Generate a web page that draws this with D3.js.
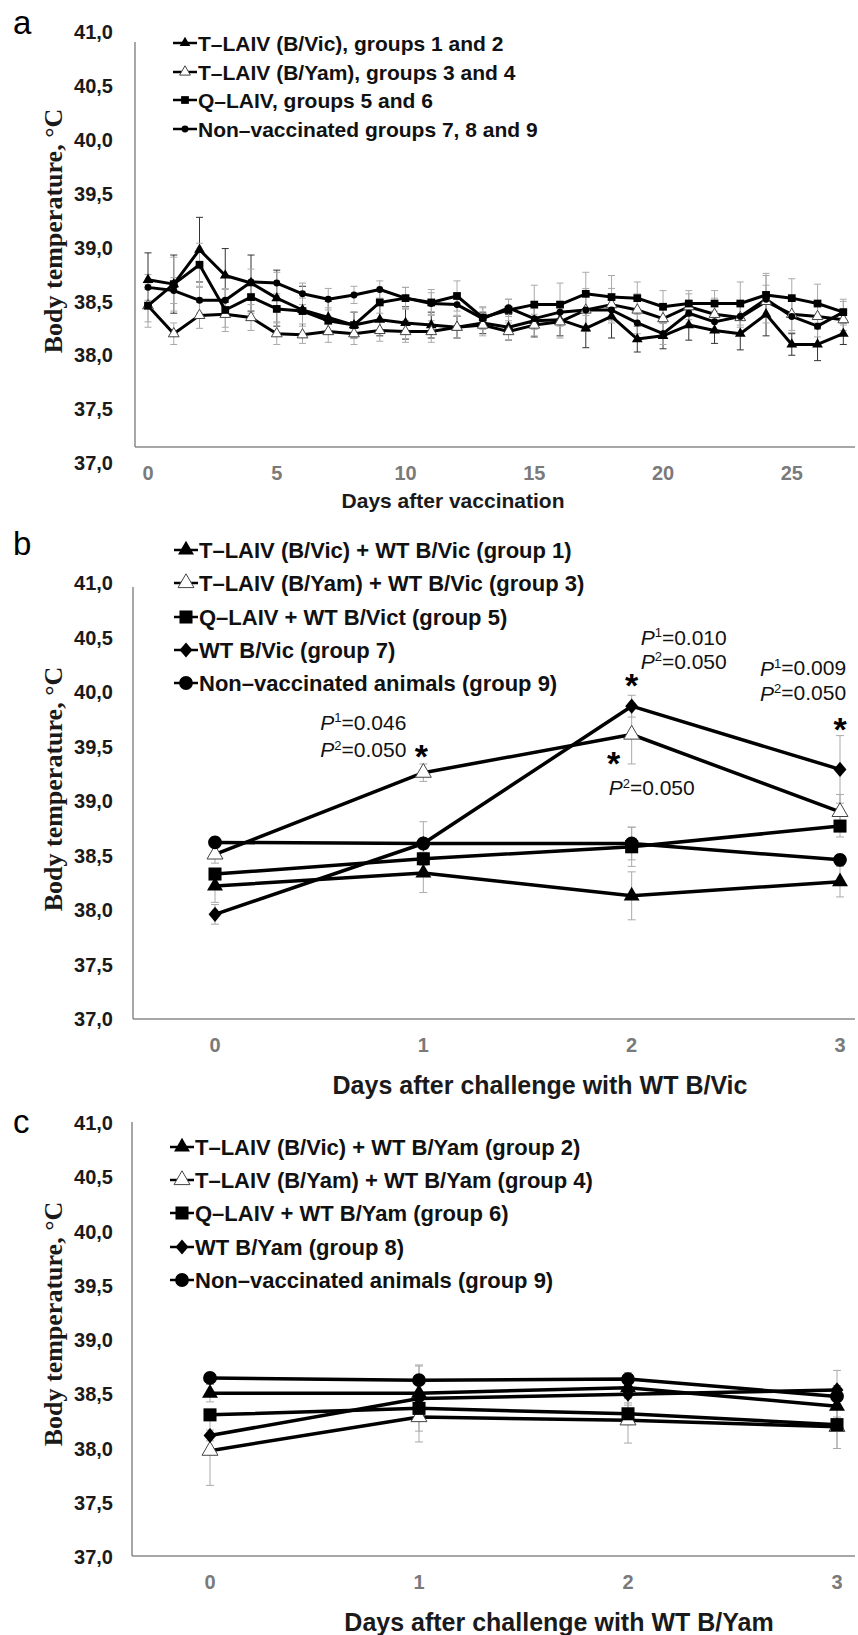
<!DOCTYPE html>
<html>
<head>
<meta charset="utf-8">
<script src="https://cdn.jsdelivr.net/npm/d3@7"></script>
<style>
  body { margin: 0; background: #fff; }
  svg { display: block; }
  text { font-family: "Liberation Sans", Arial, sans-serif; }
  text.serif { font-family: "Liberation Serif", "Times New Roman", serif; }
</style>
</head>
<body>
<div id="container"></div>
<script>
// shared y ticks
const yTickValues = [37, 37.5, 38, 38.5, 39, 39.5, 40, 40.5, 41];
const yTickLabels = ["37,0", "37,5", "38,0", "38,5", "39,0", "39,5", "40,0", "40,5", "41,0"];

// panel a - after vaccination
const daysA = [0, 1, 2, 3, 4, 5, 6, 7, 8, 9, 10, 11, 12, 13, 14, 15, 16, 17, 18, 19, 20, 21, 22, 23, 24, 25, 26, 27];
const xTicksA = [0, 5, 10, 15, 20, 25];
const tempA_vic = [38.70, 38.66, 38.98, 38.74, 38.67, 38.53, 38.42, 38.35, 38.28, 38.33, 38.30, 38.28, 38.26, 38.30, 38.26, 38.32, 38.33, 38.25, 38.36, 38.15, 38.18, 38.28, 38.23, 38.20, 38.38, 38.10, 38.10, 38.20];
const errA_vic = [0.25, 0.27, 0.30, 0.25, 0.26, 0.26, 0.22, 0.15, 0.12, 0.15, 0.15, 0.12, 0.10, 0.10, 0.12, 0.15, 0.15, 0.18, 0.20, 0.12, 0.12, 0.14, 0.12, 0.15, 0.20, 0.10, 0.15, 0.10];
const tempA_yam = [38.46, 38.20, 38.37, 38.38, 38.35, 38.20, 38.19, 38.22, 38.20, 38.23, 38.22, 38.22, 38.26, 38.28, 38.22, 38.28, 38.31, 38.42, 38.47, 38.42, 38.34, 38.45, 38.38, 38.35, 38.50, 38.38, 38.36, 38.33];
const errA_yam = [0.15, 0.10, 0.12, 0.12, 0.12, 0.10, 0.08, 0.10, 0.10, 0.10, 0.10, 0.10, 0.10, 0.10, 0.08, 0.10, 0.15, 0.20, 0.15, 0.15, 0.12, 0.12, 0.15, 0.15, 0.15, 0.15, 0.12, 0.10];
const tempA_q = [38.46, 38.66, 38.84, 38.42, 38.54, 38.43, 38.41, 38.32, 38.28, 38.49, 38.53, 38.49, 38.55, 38.35, 38.42, 38.47, 38.47, 38.57, 38.54, 38.53, 38.45, 38.48, 38.48, 38.48, 38.56, 38.53, 38.48, 38.40];
const errA_q = [0.20, 0.25, 0.20, 0.20, 0.15, 0.12, 0.12, 0.12, 0.12, 0.10, 0.10, 0.12, 0.14, 0.10, 0.10, 0.18, 0.20, 0.20, 0.20, 0.15, 0.15, 0.12, 0.12, 0.20, 0.20, 0.18, 0.18, 0.12];
const tempA_nv = [38.63, 38.60, 38.51, 38.51, 38.68, 38.67, 38.57, 38.52, 38.56, 38.61, 38.53, 38.48, 38.47, 38.34, 38.44, 38.34, 38.40, 38.42, 38.42, 38.30, 38.20, 38.39, 38.31, 38.36, 38.52, 38.36, 38.27, 38.40];
const errA_nv = [0.12, 0.12, 0.12, 0.10, 0.12, 0.10, 0.10, 0.10, 0.08, 0.08, 0.10, 0.10, 0.10, 0.10, 0.08, 0.10, 0.10, 0.15, 0.12, 0.10, 0.10, 0.10, 0.10, 0.10, 0.22, 0.15, 0.10, 0.10];
const legendA = ["T–LAIV (B/Vic), groups 1 and 2", "T–LAIV (B/Yam), groups 3 and 4", "Q–LAIV, groups 5 and 6", "Non–vaccinated groups 7, 8 and 9"];

// panel b - challenge with WT B/Vic
const daysB = [0, 1, 2, 3];
const tempB_g1 = [38.22, 38.34, 38.13, 38.26];
const errB_g1 = [0.15, 0.18, 0.22, 0.14];
const tempB_g3 = [38.51, 39.26, 39.61, 38.90];
const errB_g3 = [0.08, 0.08, 0.27, 0.16];
const tempB_g5 = [38.33, 38.47, 38.58, 38.77];
const errB_g5 = [0.05, 0.06, 0.18, 0.10];
const tempB_g7 = [37.96, 38.61, 39.87, 39.29];
const errB_g7 = [0.09, 0.20, 0.10, 0.31];
const tempB_g9 = [38.62, 38.61, 38.61, 38.46];
const errB_g9 = [0.05, 0.05, 0.15, 0.05];
const legendB = ["T–LAIV (B/Vic) + WT B/Vic (group 1)", "T–LAIV (B/Yam) + WT B/Vic (group 3)", "Q–LAIV + WT B/Vict (group 5)", "WT B/Vic (group 7)", "Non–vaccinated animals (group 9)"];

// panel c - challenge with WT B/Yam
const daysC = [0, 1, 2, 3];
const tempC_g2 = [38.51, 38.51, 38.56, 38.39];
const errC_g2 = [0.08, 0.10, 0.10, 0.10];
const tempC_g4 = [37.98, 38.29, 38.26, 38.20];
const errC_g4 = [0.32, 0.23, 0.21, 0.20];
const tempC_g6 = [38.31, 38.37, 38.32, 38.22];
const errC_g6 = [0.05, 0.10, 0.10, 0.22];
const tempC_g8 = [38.12, 38.46, 38.50, 38.54];
const errC_g8 = [0.05, 0.30, 0.10, 0.18];
const tempC_g9 = [38.65, 38.63, 38.64, 38.48];
const errC_g9 = [0.05, 0.14, 0.06, 0.10];
const legendC = ["T–LAIV (B/Vic) + WT B/Yam (group 2)", "T–LAIV (B/Yam) + WT B/Yam (group 4)", "Q–LAIV + WT B/Yam (group 6)", "WT B/Yam (group 8)", "Non–vaccinated animals (group 9)"];

const svg = d3
  .select("#container")
  .append("svg")
  .attr("width", 858)
  .attr("height", 1635);

const diamond = {
  draw(context, size) {
    const h = Math.sqrt(size) * 0.62;
    const w = h * 0.85;
    context.moveTo(0, -h);
    context.lineTo(w, 0);
    context.lineTo(0, h);
    context.lineTo(-w, 0);
    context.closePath();
  },
};
const shapes = {
  tri: d3.symbolTriangle,
  open: d3.symbolTriangle,
  sq: d3.symbolSquare,
  dia: diamond,
  circ: d3.symbolCircle,
};

const drawMarker = (sel, type, sizes) => {
  sel
    .append("path")
    .attr("d", d3.symbol().type(shapes[type]).size(sizes[type])())
    .attr("fill", type === "open" ? "#fff" : "#000")
    .attr("stroke", type === "open" ? "#444" : "none")
    .attr("stroke-width", 1);
};

const drawPanel = (p) => {
  const g = svg.append("g");
  const x = d3.scaleLinear().domain([p.days[0], p.days[p.days.length - 1]]).range(p.xRange);
  const y = d3.scaleLinear().domain([37, 41]).range(p.yRange);

  g.append("text")
    .attr("x", 13)
    .attr("y", p.letterY)
    .attr("font-size", 33)
    .text(p.letter);

  // y tick labels
  g.selectAll(".ytick")
    .data(yTickValues)
    .enter()
    .append("text")
    .attr("x", 113)
    .attr("y", (d) => y(d))
    .attr("dy", "0.36em")
    .attr("text-anchor", "end")
    .attr("font-size", 20)
    .attr("font-weight", "bold")
    .attr("fill", "#1a1a1a")
    .text((d, i) => yTickLabels[i]);

  // axis lines
  g.append("line")
    .attr("x1", p.axisX)
    .attr("x2", p.axisX)
    .attr("y1", p.axisTop)
    .attr("y2", p.axisBottom)
    .attr("stroke", "#8a8a8a")
    .attr("stroke-width", 1.5);
  g.append("line")
    .attr("x1", p.axisX)
    .attr("x2", 855)
    .attr("y1", p.axisBottom)
    .attr("y2", p.axisBottom)
    .attr("stroke", "#8a8a8a")
    .attr("stroke-width", 1.5);

  // x tick labels
  g.selectAll(".xtick")
    .data(p.xTicks)
    .enter()
    .append("text")
    .attr("x", (d) => x(d))
    .attr("y", p.axisBottom + 26)
    .attr("dy", "0.36em")
    .attr("text-anchor", "middle")
    .attr("font-size", 20)
    .attr("font-weight", "bold")
    .attr("fill", "#7a7a7a")
    .text((d) => d);

  g.append("text")
    .attr("x", p.titleX)
    .attr("y", p.axisBottom + p.titleDy)
    .attr("dy", "0.36em")
    .attr("text-anchor", "middle")
    .attr("font-size", p.titleSize)
    .attr("font-weight", "bold")
    .attr("fill", "#1a1a1a")
    .text(p.title);

  g.append("text")
    .attr("class", "serif")
    .attr("transform", `translate(62, ${p.yTitleY}) rotate(-90)`)
    .attr("text-anchor", "middle")
    .attr("font-size", 26)
    .attr("font-weight", "bold")
    .attr("fill", "#1a1a1a")
    .text("Body temperature, °C");

  const rows = p.series.map((s) =>
    p.days.map((d, i) => ({ d, v: s.values[i], e: s.errors[i] }))
  );

  // error bars
  p.series.forEach((s, k) => {
    const eb = g
      .append("g")
      .attr("stroke", s.errColor)
      .attr("stroke-width", 1)
      .selectAll("g")
      .data(rows[k])
      .enter()
      .append("g");
    eb.append("line")
      .attr("x1", (r) => x(r.d))
      .attr("x2", (r) => x(r.d))
      .attr("y1", (r) => y(r.v + r.e))
      .attr("y2", (r) => y(r.v - r.e));
    [1, -1].forEach((sign) => {
      eb.append("line")
        .attr("x1", (r) => x(r.d) - p.cap)
        .attr("x2", (r) => x(r.d) + p.cap)
        .attr("y1", (r) => y(r.v + sign * r.e))
        .attr("y2", (r) => y(r.v + sign * r.e));
    });
  });

  const line = d3
    .line()
    .x((r) => x(r.d))
    .y((r) => y(r.v));

  p.series.forEach((s, k) => {
    g.append("path")
      .datum(rows[k])
      .attr("d", line)
      .attr("fill", "none")
      .attr("stroke", "#000")
      .attr("stroke-width", p.lineWidth)
      .attr("stroke-linejoin", "round");
  });

  p.series.forEach((s, k) => {
    g.append("g")
      .selectAll("g")
      .data(rows[k])
      .enter()
      .append("g")
      .attr("transform", (r) => `translate(${x(r.d)}, ${y(r.v)})`)
      .each(function () {
        drawMarker(d3.select(this), s.shape, p.sizes);
      });
  });

  // legend
  const legend = g
    .selectAll(".legend")
    .data(p.series)
    .enter()
    .append("g")
    .attr("transform", (s, i) => `translate(${p.legendX}, ${p.legendY[i]})`);
  legend
    .append("line")
    .attr("x1", -12)
    .attr("x2", 12)
    .attr("stroke", "#000")
    .attr("stroke-width", 2.5);
  legend.each(function (s) {
    drawMarker(d3.select(this), s.shape, p.sizes);
  });
  legend
    .append("text")
    .attr("x", 13)
    .attr("dy", "0.36em")
    .attr("font-size", p.legendSize)
    .attr("font-weight", "bold")
    .attr("fill", "#111")
    .text((s) => s.name);

  return { g, x, y };
};

drawPanel({
  letter: "a",
  letterY: 34,
  days: daysA,
  xTicks: xTicksA,
  xRange: [148, 843.3],
  yRange: [463, 32],
  axisX: 135,
  axisTop: 42,
  axisBottom: 447,
  titleX: 453,
  titleDy: 53,
  titleSize: 21,
  title: "Days after vaccination",
  yTitleY: 231,
  cap: 3.5,
  lineWidth: 3,
  sizes: { tri: 50, open: 50, sq: 60, circ: 38, dia: 50 },
  legendX: 185,
  legendY: [43, 72, 100, 129],
  legendSize: 21,
  series: [
    { name: legendA[0], values: tempA_vic, errors: errA_vic, shape: "tri", errColor: "#333" },
    { name: legendA[1], values: tempA_yam, errors: errA_yam, shape: "open", errColor: "#aaa" },
    { name: legendA[2], values: tempA_q, errors: errA_q, shape: "sq", errColor: "#aaa" },
    { name: legendA[3], values: tempA_nv, errors: errA_nv, shape: "circ", errColor: "#aaa" },
  ],
});

const panelB = drawPanel({
  letter: "b",
  letterY: 555,
  days: daysB,
  xTicks: daysB,
  xRange: [215, 840],
  yRange: [1019, 583],
  axisX: 133,
  axisTop: 587,
  axisBottom: 1019,
  titleX: 540,
  titleDy: 66,
  titleSize: 25,
  title: "Days after challenge with WT B/Vic",
  yTitleY: 789,
  cap: 4,
  lineWidth: 3.5,
  sizes: { tri: 110, open: 110, sq: 170, circ: 150, dia: 150 },
  legendX: 186,
  legendY: [550, 583, 617, 650, 683],
  legendSize: 22,
  series: [
    { name: legendB[0], values: tempB_g1, errors: errB_g1, shape: "tri", errColor: "#aaa" },
    { name: legendB[1], values: tempB_g3, errors: errB_g3, shape: "open", errColor: "#aaa" },
    { name: legendB[2], values: tempB_g5, errors: errB_g5, shape: "sq", errColor: "#aaa" },
    { name: legendB[3], values: tempB_g7, errors: errB_g7, shape: "dia", errColor: "#aaa" },
    { name: legendB[4], values: tempB_g9, errors: errB_g9, shape: "circ", errColor: "#aaa" },
  ],
});

drawPanel({
  letter: "c",
  letterY: 1133,
  days: daysC,
  xTicks: daysC,
  xRange: [210, 837],
  yRange: [1557, 1123],
  axisX: 132,
  axisTop: 1122,
  axisBottom: 1556,
  titleX: 559,
  titleDy: 66,
  titleSize: 25,
  title: "Days after challenge with WT B/Yam",
  yTitleY: 1324,
  cap: 4,
  lineWidth: 3.5,
  sizes: { tri: 110, open: 110, sq: 170, circ: 150, dia: 150 },
  legendX: 182,
  legendY: [1147, 1180, 1213, 1247, 1280],
  legendSize: 22,
  series: [
    { name: legendC[0], values: tempC_g2, errors: errC_g2, shape: "tri", errColor: "#aaa" },
    { name: legendC[1], values: tempC_g4, errors: errC_g4, shape: "open", errColor: "#aaa" },
    { name: legendC[2], values: tempC_g6, errors: errC_g6, shape: "sq", errColor: "#aaa" },
    { name: legendC[3], values: tempC_g8, errors: errC_g8, shape: "dia", errColor: "#aaa" },
    { name: legendC[4], values: tempC_g9, errors: errC_g9, shape: "circ", errColor: "#aaa" },
  ],
});

// significance notes on panel b
const notesB = [
  { day: 2, temp: 40.5, dx: 9, sup: "1", val: "=0.010" },
  { day: 2, temp: 40.28, dx: 9, sup: "2", val: "=0.050" },
  { day: 3, temp: 40.22, dx: -80, sup: "1", val: "=0.009" },
  { day: 3, temp: 39.99, dx: -80, sup: "2", val: "=0.050" },
  { day: 1, temp: 39.72, dx: -103, sup: "1", val: "=0.046" },
  { day: 1, temp: 39.47, dx: -103, sup: "2", val: "=0.050" },
  { day: 2, temp: 39.12, dx: -23, sup: "2", val: "=0.050" },
];
const starsB = [
  { day: 2, temp: 40.13, dx: 0 },
  { day: 3, temp: 39.72, dx: 0 },
  { day: 1, temp: 39.47, dx: -2 },
  { day: 2, temp: 39.41, dx: -18 },
];

const note = panelB.g
  .selectAll(".note")
  .data(notesB)
  .enter()
  .append("text")
  .attr("x", (n) => panelB.x(n.day) + n.dx)
  .attr("y", (n) => panelB.y(n.temp))
  .attr("dy", "0.36em")
  .attr("font-size", 21)
  .attr("fill", "#111");
note.append("tspan").attr("font-style", "italic").text("P");
note
  .append("tspan")
  .attr("font-size", 13)
  .attr("dy", "-0.6em")
  .text((n) => n.sup);
note
  .append("tspan")
  .attr("dy", "0.35em")
  .text((n) => n.val);

panelB.g
  .selectAll(".star")
  .data(starsB)
  .enter()
  .append("text")
  .attr("x", (s) => panelB.x(s.day) + s.dx)
  .attr("y", (s) => panelB.y(s.temp))
  .attr("dy", "0.55em")
  .attr("text-anchor", "middle")
  .attr("font-size", 34)
  .attr("font-weight", "bold")
  .text("*");
</script>
</body>
</html>
